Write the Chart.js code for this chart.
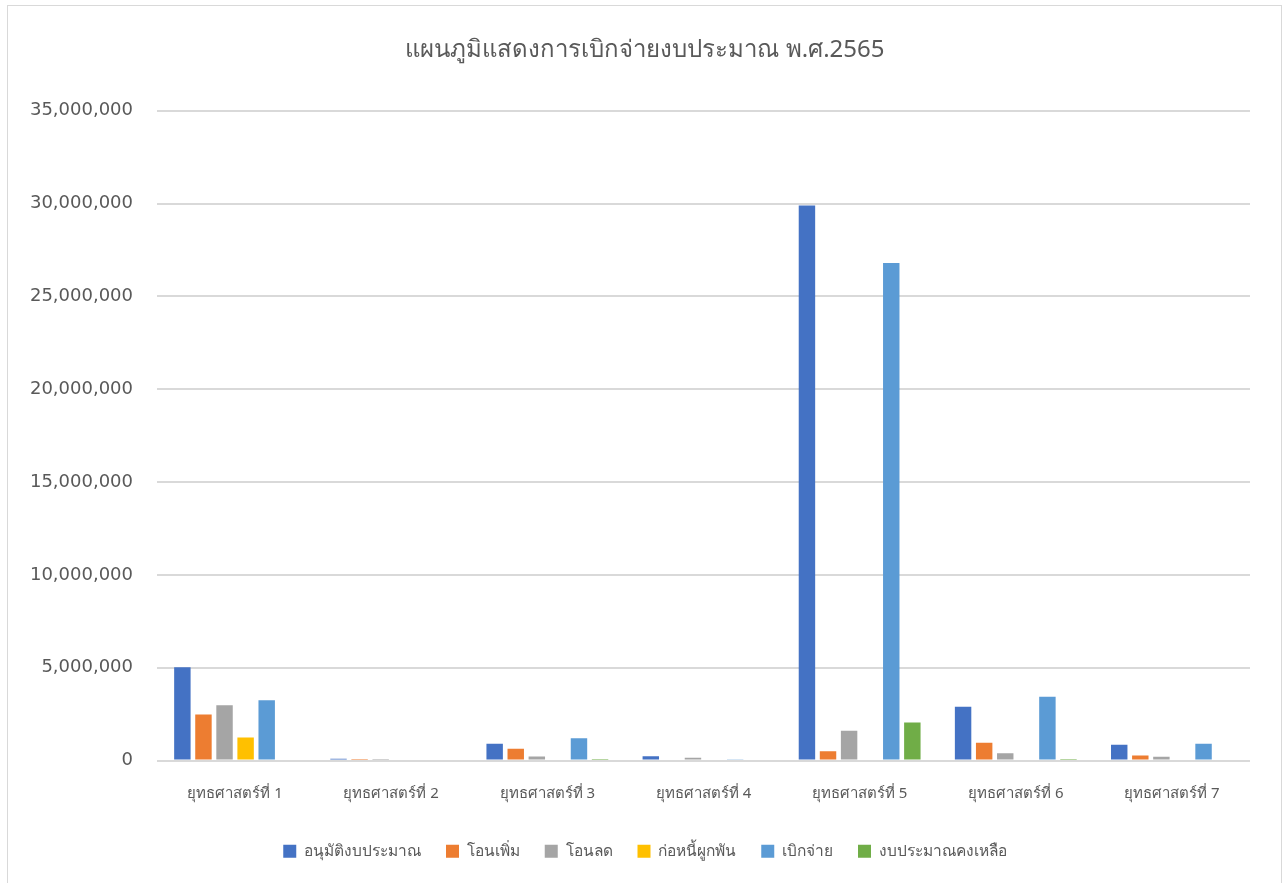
<!DOCTYPE html>
<html>
<head>
<meta charset="utf-8">
<script src="https://cdn.jsdelivr.net/npm/chart.js@4.4.0/dist/chart.umd.min.js"></script>
<style>
  body { margin: 0; background: #fff; }
  #frame { position: absolute; left: 7px; top: 5px; width: 1273px; height: 900px; border: 1px solid #d9d9d9; }
  #wrap { position: absolute; left: 0; top: 0; width: 1285px; height: 883px; }
</style>
</head>
<body>
<div id="frame"></div>
<div id="wrap"><canvas id="myChart"></canvas></div>
<script>
  const categories = ['ยุทธศาสตร์ที่ 1', 'ยุทธศาสตร์ที่ 2', 'ยุทธศาสตร์ที่ 3', 'ยุทธศาสตร์ที่ 4', 'ยุทธศาสตร์ที่ 5', 'ยุทธศาสตร์ที่ 6', 'ยุทธศาสตร์ที่ 7'];
  const approved  = [5020000, 100000, 900000, 230000, 29900000, 2900000, 850000];
  const transferIn = [2480000, 30000, 630000, 0, 500000, 950000, 270000];
  const transferOut = [2980000, 80000, 220000, 150000, 1600000, 390000, 200000];
  const committed = [1240000, 0, 0, 0, 0, 0, 0];
  const disbursed = [3250000, 0, 1200000, 70000, 26800000, 3430000, 900000];
  const remaining = [0, 0, 80000, 0, 2050000, 30000, 0];

  const font = "'Noto Sans', 'DejaVu Sans', sans-serif";
  const grey = '#595959';

  const ctx = document.getElementById('myChart');

  // widen the y scale box after layout so its labels are not clipped
  const widenY = {
    id: 'widenY',
    afterLayout(chart) { chart.scales.y.left = 0; }
  };

  new Chart(ctx, {
    type: 'bar',
    plugins: [widenY],
    data: {
      labels: categories,
      datasets: [
        { label: 'อนุมัติงบประมาณ', data: approved, backgroundColor: '#4472C4' },
        { label: 'โอนเพิ่ม', data: transferIn, backgroundColor: '#ED7D31' },
        { label: 'โอนลด', data: transferOut, backgroundColor: '#A5A5A5' },
        { label: 'ก่อหนี้ผูกพัน', data: committed, backgroundColor: '#FFC000' },
        { label: 'เบิกจ่าย', data: disbursed, backgroundColor: '#5B9BD5' },
        { label: 'งบประมาณคงเหลือ', data: remaining, backgroundColor: '#70AD47' }
      ]
    },
    options: {
      responsive: true,
      maintainAspectRatio: false,
      animation: false,
      datasets: {
        bar: { categoryPercentage: 0.81, barPercentage: 0.78 }
      },
      layout: { padding: { left: 40, right: 35, top: 20, bottom: 14 } },
      plugins: {
        title: {
          display: true,
          text: 'แผนภูมิแสดงการเบิกจ่ายงบประมาณ พ.ศ.2565',
          color: grey,
          font: { family: font, size: 24, weight: 'normal' },
          padding: { top: 16, bottom: 46 }
        },
        legend: {
          position: 'bottom',
          labels: {
            color: grey,
            font: { family: font, size: 15.5 },
            boxWidth: 13,
            boxHeight: 13,
            padding: 25
          }
        },
        tooltip: { enabled: false }
      },
      scales: {
        x: {
          grid: { display: false },
          border: { display: false },
          ticks: { color: grey, font: { family: font, size: 15 }, padding: 16 }
        },
        y: {
          min: 0,
          max: 35000000,
          border: { display: false },
          grid: { color: '#d9d9d9', lineWidth: 2, drawTicks: false },
          ticks: {
            stepSize: 5000000,
            color: grey,
            padding: 24,
            font: { family: "'DejaVu Sans', sans-serif", size: 18 },
            callback: v => v.toLocaleString('en-US')
          },
          afterFit: s => { s.width = 117; }
        }
      }
    }
  });
</script>
</body>
</html>
